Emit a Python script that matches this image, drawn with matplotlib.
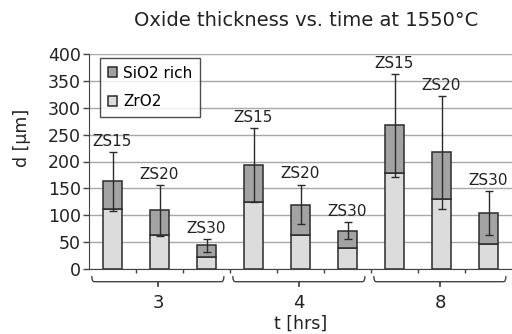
import matplotlib
matplotlib.use("Agg")
import matplotlib.pyplot as plt
import numpy as np
from matplotlib.path import Path
from matplotlib.patches import PathPatch
import matplotlib.transforms as mtransforms

plt.rcParams['font.family'] = ['DejaVu Sans']

groups = ['3', '4', '8']
samples = ['ZS15', 'ZS20', 'ZS30']
zro2 = [111, 63, 22, 125, 64, 40, 179, 131, 46]
total = [163, 109, 44, 193, 120, 71, 267, 217, 104]
err = [55, 47, 12, 69, 37, 16, 96, 105, 41]
sio2 = [t - z for t, z in zip(total, zro2)]
yticks = [0, 50, 100, 150, 200, 250, 300, 350, 400]

fig = plt.figure(figsize=(5.12, 3.34), dpi=100)
ax = fig.add_axes([89/512, 1-269/334, 423/512, 215/334])

n = len(zro2)
x = np.arange(n)
w = 0.41
edge = '#2b2b2b'
ax.bar(x, zro2, w, color='#dcdcdc', edgecolor=edge, linewidth=1.1, label='ZrO2', zorder=3)
ax.bar(x, sio2, w, bottom=zro2, color='#a3a3a3', edgecolor=edge, linewidth=1.1, label='SiO2 rich', zorder=3)
ax.errorbar(x, total, yerr=err, fmt='none', ecolor=edge, elinewidth=1.0, capsize=3, capthick=1.0, zorder=4)

for i in range(n):
    ax.text(x[i], total[i] + err[i] + 6, samples[i % 3], ha='center', va='bottom', fontsize=11, color='#222222')

ax.set_ylim(0, 400)
ax.set_xlim(-0.5, n - 0.5)
ax.set_yticks(yticks)
ax.tick_params(axis='y', labelsize=12.5, length=4, width=1, direction='out', color='#444444', colors='#222222', pad=2)
ax.yaxis.grid(True, color='#a8a8a8', linewidth=1.0, zorder=0)
ax.set_axisbelow(True)
for s in ['top', 'right']:
    ax.spines[s].set_visible(False)
ax.spines['left'].set_color('#444444')
ax.spines['bottom'].set_color('#444444')

ax.set_xticks(np.arange(0.5, n - 0.5, 1.0))
ax.set_xticklabels([])
ax.tick_params(axis='x', length=3, width=1, direction='out', color='#444444')

fig.text(306/512, 1 - 21/334, 'Oxide thickness vs. time at 1550°C', ha='center', va='center',
         fontsize=14, color='#222222')
fig.text(22/512, 1 - 138/334, 'd [µm]', ha='center', va='center', rotation=90,
         fontsize=12.5, color='#222222')

trans = mtransforms.blended_transform_factory(ax.transData, ax.transAxes)
yb, yc, yt, yl = -0.059, -0.033, -0.080, -0.158
for g, lab in enumerate(groups):
    lo = 3 * g - 0.44
    hi = 3 * g + 2.37
    mid = 3 * g + 0.97
    verts = [(lo, yc), (lo, yb), (lo + 0.05, yb), (hi - 0.05, yb), (hi, yb), (hi, yc)]
    codes = [Path.MOVETO, Path.CURVE3, Path.CURVE3, Path.LINETO, Path.CURVE3, Path.CURVE3]
    ax.add_patch(PathPatch(Path(verts, codes), transform=trans, fill=False,
                           edgecolor='#444444', linewidth=1.0, clip_on=False))
    ax.plot([mid, mid], [yb, yt], transform=trans, color='#444444', lw=1.3, clip_on=False)
    ax.text(mid, yl, lab, transform=trans, ha='center', va='center', fontsize=13, color='#222222')

fig.text(301/512, 1 - 324/334, 't [hrs]', ha='center', va='center', fontsize=12.5, color='#222222')

handles, labels = ax.get_legend_handles_labels()
leg = ax.legend(handles[::-1], labels[::-1], loc='upper left', bbox_to_anchor=(11/423, (269-58)/215),
                fontsize=11, frameon=True, fancybox=False, edgecolor='#222222',
                handlelength=0.6, handleheight=0.6, labelspacing=0.9, handletextpad=0.4,
                borderpad=0.5, borderaxespad=0)
leg.get_frame().set_linewidth(1.0)
leg.set_zorder(5)

fig.savefig('out.png', dpi=100)
